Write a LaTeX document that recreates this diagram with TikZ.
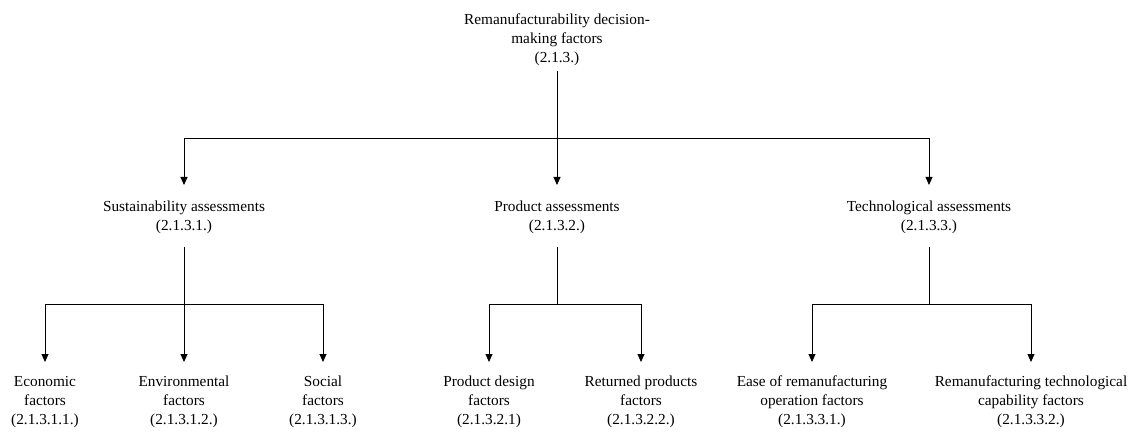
\documentclass[tikz,border=0pt]{standalone}
\usepackage{fontspec}
\setmainfont{Liberation Serif}
\usetikzlibrary{arrows.meta}
\begin{document}
\begin{tikzpicture}[x=1pt,y=-1pt,
  lbl/.style={align=center,inner sep=0pt,anchor=north,font=\fontsize{15.3}{19}\selectfont},
  wire/.style={draw=black,line width=0.9pt},
  arr/.style={wire,-{Triangle[length=8pt,width=7pt]}}]
\useasboundingbox (0,0) rectangle (1133,433);
% root
\node[lbl] (r) at (557,14) {Remanufacturability decision-\\making factors\\(2.1.3.)};
% second level
\node[lbl] (s) at (184,201) {Sustainability assessments\\(2.1.3.1.)};
\node[lbl] (p) at (557,201) {Product assessments\\(2.1.3.2.)};
\node[lbl] (t) at (929,201) {Technological assessments\\(2.1.3.3.)};
% third level
\node[lbl] (s1) at (45,376) {Economic\\factors\\(2.1.3.1.1.)};
\node[lbl] (s2) at (184,376) {Environmental\\factors\\(2.1.3.1.2.)};
\node[lbl] (s3) at (323,376) {Social\\factors\\(2.1.3.1.3.)};
\node[lbl] (p1) at (489,376) {Product design\\factors\\(2.1.3.2.1)};
\node[lbl] (p2) at (641,376) {Returned products\\factors\\(2.1.3.2.2.)};
\node[lbl] (t1) at (812,376) {Ease of remanufacturing\\operation factors\\(2.1.3.3.1.)};
\node[lbl] (t2) at (1031,376) {Remanufacturing technological\\capability factors\\(2.1.3.3.2.)};
% branch points
\coordinate (j0) at (557,138);
\coordinate (j1) at (184,304);
\coordinate (j2) at (557,304);
\coordinate (j3) at (929,304);
% connectors
\draw[wire] ([yshift=-5pt]r.south) -- (j0);
\draw[arr] (j0) -| ([yshift=16pt]s.north);
\draw[arr] (j0) -- ([yshift=16pt]p.north);
\draw[arr] (j0) -| ([yshift=16pt]t.north);
\draw[wire] ([yshift=-13pt]s.south) -- (j1);
\draw[wire] ([yshift=-13pt]p.south) -- (j2);
\draw[wire] ([yshift=-13pt]t.south) -- (j3);
\draw[arr] (j1) -| ([yshift=14pt]s1.north);
\draw[arr] (j1) -- ([yshift=14pt]s2.north);
\draw[arr] (j1) -| ([yshift=14pt]s3.north);
\draw[arr] (j2) -| ([yshift=14pt]p1.north);
\draw[arr] (j2) -| ([yshift=14pt]p2.north);
\draw[arr] (j3) -| ([yshift=14pt]t1.north);
\draw[arr] (j3) -| ([yshift=14pt]t2.north);
\end{tikzpicture}
\end{document}
